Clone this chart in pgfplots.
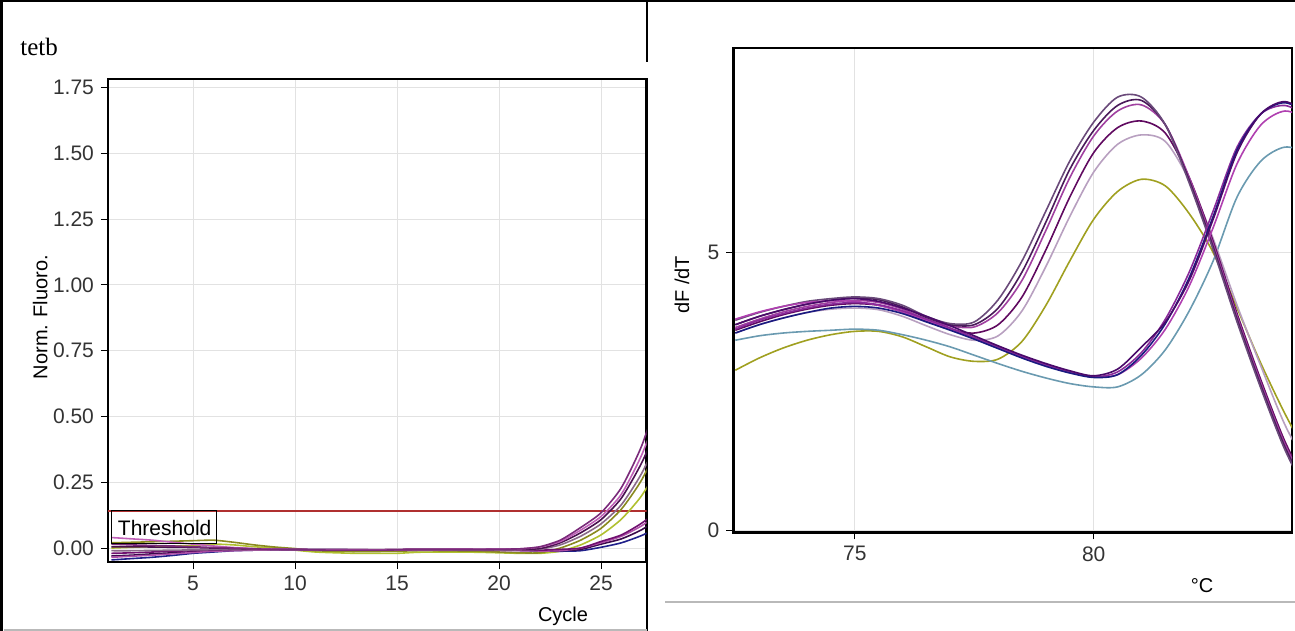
\documentclass[border=0pt]{standalone}
\usepackage{fontspec}
\setmainfont{Liberation Sans}
\newfontfamily\timesfont{Liberation Serif}
\usepackage{pgfplots}
\usepackage{pgfplotstable}
\pgfplotsset{compat=1.18}

\definecolor{tickgray}{HTML}{333333}
\definecolor{gridgray}{HTML}{E2E2E2}
\definecolor{thresh}{HTML}{B03030}
\definecolor{cA}{HTML}{7A2A7A}
\definecolor{cB}{HTML}{C060B8}
\definecolor{cC}{HTML}{4A1050}
\definecolor{cD}{HTML}{8A6A8A}
\definecolor{cE}{HTML}{8A8A20}
\definecolor{cF}{HTML}{B0C030}
\definecolor{cG}{HTML}{701070}
\definecolor{cH}{HTML}{3A0A4A}
\definecolor{cI}{HTML}{20208A}
\definecolor{cJ}{HTML}{B050A8}
\definecolor{mA}{HTML}{6A4A7A}
\definecolor{mB}{HTML}{4A1A5A}
\definecolor{mC}{HTML}{A040A0}
\definecolor{mD}{HTML}{600A60}
\definecolor{mE}{HTML}{B8A0C0}
\definecolor{mF}{HTML}{A0A020}
\definecolor{nA}{HTML}{4A0A6A}
\definecolor{nB}{HTML}{8A2A9A}
\definecolor{nC}{HTML}{B040B0}
\definecolor{nD}{HTML}{1A1A80}
\definecolor{nE}{HTML}{6A9AB0}

\pgfplotstableread{
c  s1     s2     s3     s4     s5     s6     s7     s8     s9     s10
1  0.015  0.040  0.005  -0.010 0.020  0.000  -0.020 -0.030 -0.045 -0.035
2  0.012  0.035  0.005  -0.010 0.022  0.003  -0.018 -0.027 -0.040 -0.031
3  0.010  0.030  0.004  -0.009 0.024  0.006  -0.015 -0.022 -0.035 -0.027
4  0.008  0.022  0.003  -0.008 0.026  0.008  -0.012 -0.018 -0.028 -0.022
5  0.005  0.015  0.002  -0.007 0.028  0.010  -0.010 -0.014 -0.020 -0.017
6  0.002  0.008  0.000  -0.006 0.030  0.015  -0.008 -0.010 -0.015 -0.012
7  0.000  0.002  -0.002 -0.006 0.022  0.012  -0.006 -0.008 -0.010 -0.010
8  -0.003 -0.002 -0.003 -0.006 0.012  0.005  -0.005 -0.007 -0.008 -0.008
9  -0.005 -0.004 -0.004 -0.006 0.004  0.000  -0.005 -0.006 -0.007 -0.007
10 -0.006 -0.005 -0.005 -0.006 -0.002 -0.008 -0.005 -0.006 -0.006 -0.007
11 -0.007 -0.006 -0.006 -0.007 -0.010 -0.015 -0.006 -0.006 -0.006 -0.007
12 -0.008 -0.006 -0.006 -0.007 -0.012 -0.018 -0.006 -0.006 -0.006 -0.007
13 -0.008 -0.006 -0.007 -0.008 -0.013 -0.020 -0.006 -0.006 -0.007 -0.008
14 -0.008 -0.007 -0.007 -0.008 -0.013 -0.020 -0.006 -0.007 -0.007 -0.008
15 -0.007 -0.007 -0.007 -0.008 -0.012 -0.020 -0.005 -0.007 -0.007 -0.008
16 -0.006 -0.006 -0.006 -0.007 -0.010 -0.016 -0.004 -0.006 -0.007 -0.008
17 -0.006 -0.006 -0.006 -0.007 -0.010 -0.015 -0.004 -0.006 -0.007 -0.008
18 -0.005 -0.005 -0.006 -0.007 -0.011 -0.015 -0.004 -0.006 -0.007 -0.008
19 -0.005 -0.005 -0.006 -0.007 -0.012 -0.016 -0.005 -0.006 -0.007 -0.008
20 -0.004 -0.004 -0.005 -0.007 -0.015 -0.018 -0.006 -0.007 -0.008 -0.009
21 -0.003 -0.003 -0.004 -0.006 -0.018 -0.020 -0.007 -0.008 -0.009 -0.010
22 0.005  0.004  -0.002 -0.004 -0.018 -0.020 -0.008 -0.010 -0.011 -0.011
23 0.030  0.025  0.020  0.012  0.000  -0.012 -0.005 -0.010 -0.012 -0.010
24 0.078  0.068  0.058  0.045  0.030  0.012  0.000  -0.005 -0.010 0.000
25 0.134  0.120  0.108  0.092  0.075  0.050  0.025  0.015  0.003  0.020
26 0.230  0.205  0.190  0.165  0.148  0.110  0.050  0.035  0.020  0.045
27 0.390  0.355  0.325  0.285  0.260  0.200  0.095  0.070  0.048  0.085
28 0.620  0.560  0.500  0.450  0.420  0.330  0.155  0.120  0.085  0.140
}\amp

\pgfplotstableread{
T     a1   a2   a3   a4   a5   a6   b1   b2   b3   b4   b5
72.5  3.78 3.70 3.65 3.60 3.55 2.88 3.70 3.62 3.80 3.55 3.42
73.0  3.92 3.85 3.80 3.75 3.70 3.10 3.85 3.78 3.93 3.70 3.50
73.5  4.03 3.97 3.93 3.88 3.82 3.28 3.97 3.90 4.03 3.82 3.55
74.0  4.12 4.07 4.03 3.98 3.92 3.42 4.07 4.00 4.10 3.92 3.58
74.5  4.17 4.14 4.10 4.05 3.98 3.52 4.14 4.07 4.13 4.00 3.60
75.0  4.20 4.18 4.14 4.08 4.00 3.58 4.17 4.10 4.12 4.03 3.62
75.5  4.17 4.15 4.10 4.05 3.97 3.58 4.12 4.06 4.05 4.00 3.60
76.0  4.05 4.02 3.98 3.93 3.85 3.48 4.00 3.95 3.93 3.90 3.52
76.5  3.85 3.83 3.80 3.76 3.68 3.30 3.85 3.80 3.78 3.75 3.42
77.0  3.72 3.70 3.68 3.62 3.52 3.12 3.68 3.64 3.62 3.60 3.30
77.5  3.75 3.70 3.66 3.55 3.42 3.04 3.50 3.47 3.45 3.44 3.15
78.0  4.15 4.00 3.92 3.70 3.50 3.08 3.32 3.30 3.28 3.27 3.00
78.5  4.85 4.65 4.50 4.20 3.95 3.40 3.15 3.13 3.12 3.10 2.86
79.0  5.75 5.55 5.40 5.05 4.75 4.05 3.00 2.98 2.97 2.95 2.74
79.5  6.65 6.50 6.35 6.00 5.65 4.85 2.87 2.85 2.84 2.83 2.64
80.0  7.35 7.20 7.10 6.80 6.45 5.60 2.78 2.76 2.76 2.75 2.58
80.5  7.80 7.65 7.55 7.25 6.95 6.10 2.90 2.85 2.80 2.80 2.58
81.0  7.80 7.74 7.66 7.37 7.12 6.32 3.30 3.20 3.10 3.15 2.80
81.5  7.30 7.30 7.30 7.15 7.00 6.20 3.75 3.80 3.62 3.72 3.25
82.0  6.25 6.30 6.35 6.35 6.30 5.70 4.50 4.65 4.40 4.55 3.95
82.5  5.05 5.10 5.15 5.20 5.25 5.00 5.60 5.75 5.45 5.65 4.85
83.0  3.75 3.80 3.85 3.90 4.05 4.00 6.80 6.90 6.60 6.85 6.00
83.5  2.55 2.60 2.65 2.70 2.95 3.00 7.50 7.50 7.30 7.50 6.65
84.0  1.45 1.50 1.55 1.60 1.90 2.10 7.72 7.65 7.55 7.70 6.90
84.5  0.60 0.65 0.70 0.75 1.10 1.30 7.50 7.45 7.40 7.50 6.80
}\melt

\pgfplotsset{
  panel/.style={
    scale only axis,
    anchor=south west,
    axis line style={black, line width=1.2pt},
    grid=major,
    major grid style={gridgray, line width=0.5pt},
    tick pos=left,
    tick align=outside,
    major tick length=3.5pt,
    tick style={black, line width=0.5pt},
    ticklabel style={font=\fontsize{10.5}{12}\selectfont, text=tickgray},
    label style={font=\fontsize{10}{12}\selectfont, text=black},
    /pgf/number format/assume math mode=true,
    clip=true,
  },
}

\begin{document}
\begin{tikzpicture}[x=0.5pt,y=-0.5pt]
\path[use as bounding box] (0,0) rectangle (1295,631);

% left panel: amplification curves
\begin{axis}[panel,
  at={(54pt,-281pt)},
  width=269.25pt, height=241.5pt,
  xmin=0.83, xmax=27.23, ymin=-0.053, ymax=1.783,
  xtick={5,10,15,20,25},
  ytick={0,0.25,0.5,0.75,1,1.25,1.5,1.75},
  yticklabel style={/pgf/number format/.cd, fixed, fixed zerofill, precision=2},
  xlabel={Cycle},
  xlabel style={at={(axis description cs:0.845,-0.112)}, anchor=center},
  ylabel={Norm. Fluoro.},
  ylabel style={at={(axis description cs:-0.126,0.507)}, anchor=center},
  every axis plot/.append style={line width=0.8pt, line join=round, smooth, tension=0.4},
]
\addplot[thresh, line width=0.8pt, sharp plot] coordinates {(0.83,0.142) (27.23,0.142)};
\addplot[cF] table[x=c,y=s6] {\amp};
\addplot[cE] table[x=c,y=s5] {\amp};
\addplot[cI] table[x=c,y=s9] {\amp};
\addplot[cH] table[x=c,y=s8] {\amp};
\addplot[cJ] table[x=c,y=s10] {\amp};
\addplot[cG] table[x=c,y=s7] {\amp};
\addplot[cD] table[x=c,y=s4] {\amp};
\addplot[cC] table[x=c,y=s3] {\amp};
\addplot[cB] table[x=c,y=s2] {\amp};
\addplot[cA] table[x=c,y=s1] {\amp};
\draw[black, line width=0.5pt] (axis cs:1,0.142) rectangle (axis cs:6.13,0.019);
\node[anchor=west, font=\fontsize{10.5}{12}\selectfont, inner sep=0pt] at (axis cs:1.3,0.075) {Threshold};
\end{axis}

% right panel: melt curves
\begin{axis}[panel,
  at={(366.7pt,-266.15pt)},
  width=279.3pt, height=242pt,
  xmin=72.46, xmax=84.15, ymin=-0.04, ymax=8.68,
  xtick={75,80}, ytick={0,5},
  xlabel={°C},
  xlabel style={at={(axis description cs:0.839,-0.111)}, anchor=center},
  ylabel={dF /dT},
  ylabel style={at={(axis description cs:-0.092,0.511)}, anchor=center},
  every axis plot/.append style={line width=0.8pt, smooth, tension=0.5, line join=round},
]
\addplot[mF] table[x=T,y=a6] {\melt};
\addplot[nE] table[x=T,y=b5] {\melt};
\addplot[mE] table[x=T,y=a5] {\melt};
\addplot[mD] table[x=T,y=a4] {\melt};
\addplot[mC] table[x=T,y=a3] {\melt};
\addplot[mB] table[x=T,y=a2] {\melt};
\addplot[mA] table[x=T,y=a1] {\melt};
\addplot[nC] table[x=T,y=b3] {\melt};
\addplot[nB] table[x=T,y=b2] {\melt};
\addplot[nD] table[x=T,y=b4] {\melt};
\addplot[nA] table[x=T,y=b1] {\melt};
\end{axis}

% page frame and cell borders
\draw[black, line width=1.3pt] (0,1.2) -- (1295,1.2);
\draw[black, line width=1.2pt] (1.5,0) -- (1.5,631);
\draw[black, line width=1.0pt] (647,0) -- (647,62);
\draw[black, line width=1.0pt] (647,562) -- (647,631);
\draw[gray!55, line width=1pt] (4,630) -- (647,630);
\draw[gray!55, line width=1pt] (665,601.5) -- (1295,601.5);
\node[anchor=base west, font=\timesfont\fontsize{12.5}{14}\selectfont, inner sep=0pt] at (20,56) {tetb};
\end{tikzpicture}
\end{document}
